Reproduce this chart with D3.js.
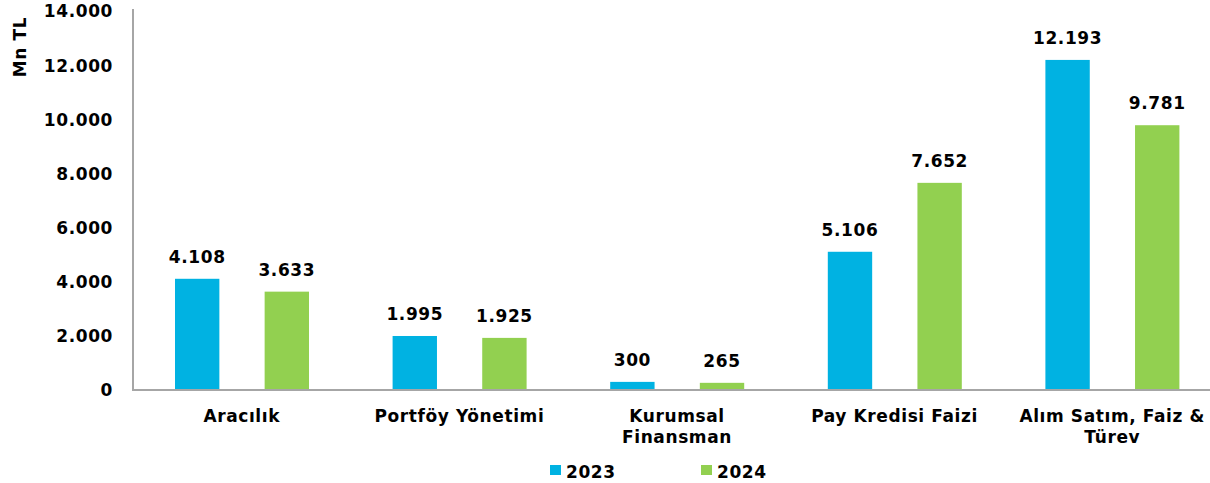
<!DOCTYPE html>
<html>
<head>
<meta charset="utf-8">
<script src="https://cdn.jsdelivr.net/npm/d3@7"></script>
<style>
  body { margin: 0; background: #fff; }
  svg text { font-family: "DejaVu Sans", Verdana, sans-serif; font-weight: bold; fill: #000; font-size: 17px; letter-spacing: 0.6px; }
</style>
</head>
<body>
<svg id="chart" width="1210" height="483"></svg>
<script>
// chart data
var categories = [["Aracılık"], ["Portföy Yönetimi"], ["Kurumsal", "Finansman"], ["Pay Kredisi Faizi"], ["Alım Satım, Faiz &", "Türev"]];
var years = ["2023", "2024"];
var values2023 = [4108, 1995, 300, 5106, 12193];
var values2024 = [3633, 1925, 265, 7652, 9781];
var yTicks = [0, 2000, 4000, 6000, 8000, 10000, 12000, 14000];
var colors = ["#00B2E2", "#92D050"];

var svg = d3.select('#chart');
var mLeft = 133, mRight = 1221, mTop = 11, mBottom = 390;

var fmt = d3.formatLocale({decimal: ",", thousands: ".", grouping: [3], currency: ["", " TL"]}).format(",d");

var x = d3.scaleBand().domain(d3.range(categories.length)).range([mLeft, mRight]);
var y = d3.scaleLinear().domain([0, 14000]).range([mBottom, mTop]);
// two bars of ~44px with ~45px gap, centred in each band
var xs = d3.scaleBand().domain(years).range([42, 176]).paddingInner(0.505).paddingOuter(0);

// y axis labels
var yAxis = d3.axisLeft(y).tickValues(yTicks).tickFormat(fmt).tickSize(0).tickPadding(20);
var ga = svg.append('g').attr('transform', 'translate(' + mLeft + ',0)').call(yAxis);
ga.select('.domain').remove();
ga.selectAll('text').attr('dy', '0.35em');
ga.attr('font-size', null).attr('font-family', null);

// bars
var series = [values2023, values2024];
series.forEach(function(vals, si) {
    svg.append('g').selectAll('rect')
        .data(vals)
        .enter().append('rect')
        .attr('x', function(d, i){ return x(i) + xs(years[si]); })
        .attr('y', function(d){ return y(d); })
        .attr('width', xs.bandwidth())
        .attr('height', function(d){ return y(0) - y(d); })
        .attr('fill', colors[si]);

    svg.append('g').selectAll('text')
        .data(vals)
        .enter().append('text')
        .attr('x', function(d, i){ return x(i) + xs(years[si]) + xs.bandwidth() / 2; })
        .attr('y', function(d){ return y(d) - 16; })
        .attr('text-anchor', 'middle')
        .text(function(d){ return fmt(d); });
});

// axis lines
svg.append('line').attr('x1', mLeft).attr('x2', mLeft).attr('y1', y(14000) - 2).attr('y2', mBottom + 1)
    .attr('stroke', '#A6A6A6').attr('stroke-width', 2);
svg.append('line').attr('x1', mLeft).attr('x2', mRight).attr('y1', mBottom).attr('y2', mBottom)
    .attr('stroke', '#A6A6A6').attr('stroke-width', 2);

// category labels
var cl = svg.append('g').selectAll('text')
    .data(categories)
    .enter().append('text')
    .attr('x', function(d, i){ return x(i) + x.bandwidth() / 2; })
    .attr('y', 422)
    .attr('text-anchor', 'middle');
cl.selectAll('tspan')
    .data(function(d){ return d; })
    .enter().append('tspan')
    .attr('x', function(){ return d3.select(this.parentNode).attr('x'); })
    .attr('dy', function(d, i){ return i === 0 ? 0 : 21; })
    .text(function(d){ return d; });

// y title
svg.append('text')
    .attr('transform', 'translate(26,47) rotate(-90)')
    .attr('text-anchor', 'middle')
    .text('Mn TL');

// legend
var legendX = [550, 701];
years.forEach(function(yr, i) {
    svg.append('rect').attr('x', legendX[i]).attr('y', 465).attr('width', 11).attr('height', 10).attr('fill', colors[i]);
    svg.append('text').attr('x', legendX[i] + 16).attr('y', 478).text(yr);
});
</script>
</body>
</html>
